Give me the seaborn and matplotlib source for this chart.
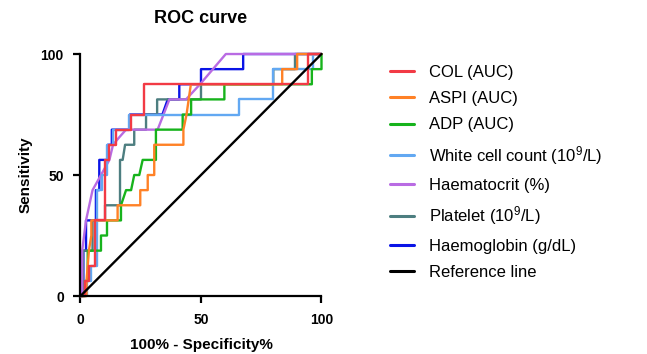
import numpy as np
import pandas as pd
import matplotlib
matplotlib.use("Agg")
import matplotlib.pyplot as plt
import seaborn as sns

# ROC curves (x = 100% - specificity, y = sensitivity)
col_x = [0, 1.9, 1.9, 3.7, 3.7, 6.2, 6.2, 10.3, 10.3, 12, 12, 14.7, 14.7, 21, 21, 26.5, 26.5, 94.4, 94.4, 100]
col_y = [0, 0, 6.25, 6.25, 12.5, 12.5, 31.25, 31.25, 56.25, 56.25, 62.5, 62.5, 68.75, 68.75, 75, 75, 87.5, 87.5, 100, 100]

aspi_x = [0, 2.5, 2.5, 3.5, 4.5, 4.5, 15.4, 15.4, 24.8, 24.8, 27.9, 27.9, 30.6, 30.6, 42.7, 42.7, 44, 45.8, 83.7, 83.7, 89.9, 89.9, 100]
aspi_y = [0, 0, 6.25, 18.75, 25, 31.25, 31.25, 37.5, 37.5, 43.75, 43.75, 50, 50, 62.5, 62.5, 68.75, 75, 87.5, 87.5, 93.75, 93.75, 100, 100]

adp_x = [0, 2, 2, 3, 3, 8.5, 8.5, 11, 11, 16.8, 16.8, 18.9, 21, 22.3, 24.4, 25.8, 31.3, 31.3, 42.4, 42.4, 45.9, 45.9, 59.7, 59.7, 96, 96, 100, 100]
adp_y = [0, 0, 6.25, 6.25, 18.75, 18.75, 25, 25, 31.25, 31.25, 37.5, 43.75, 43.75, 50, 50, 56.25, 56.25, 68.75, 68.75, 75, 75, 81.25, 81.25, 87.5, 87.5, 93.75, 93.75, 100]

wcc_x = [0, 2.5, 2.5, 4.5, 4.5, 6.8, 6.8, 8.9, 8.9, 11, 11, 13.3, 13.3, 20.3, 20.3, 65.9, 65.9, 79.9, 79.9, 96.5, 96.5, 100]
wcc_y = [0, 0, 6.25, 6.25, 12.5, 12.5, 43.75, 43.75, 50, 50, 62.5, 62.5, 68.75, 68.75, 75, 75, 81.25, 81.25, 93.75, 93.75, 100, 100]

hct_x = [0, 0.7, 0.7, 2.3, 5, 8.5, 12, 13.5, 16.1, 18.9, 32, 36.9, 43.8, 49.6, 60.3, 100]
hct_y = [0, 0, 18.75, 31.25, 43.75, 50, 56.25, 62.5, 65.6, 68.75, 68.75, 81.25, 81.25, 87.5, 100, 100]

plt_x = [0, 1, 1, 5, 5, 10.2, 10.2, 16.4, 16.4, 17.5, 18.5, 22.3, 22.3, 27.2, 27.2, 31.8, 31.8, 50, 50, 80, 80, 89, 89, 100]
plt_y = [0, 0, 18.75, 18.75, 31.25, 31.25, 37.5, 37.5, 56.25, 56.25, 62.5, 62.5, 68.75, 68.75, 75, 75, 81.25, 81.25, 87.5, 87.5, 93.75, 93.75, 100, 100]

hb_x = [0, 1.2, 1.2, 2.3, 2.3, 6.4, 6.4, 7.8, 7.8, 11.3, 11.3, 13, 13, 20.5, 20.5, 34, 36.2, 41, 41, 50, 50, 67.5, 67.5, 100]
hb_y = [0, 0, 18.75, 18.75, 31.25, 31.25, 43.75, 43.75, 56.25, 56.25, 62.5, 62.5, 68.75, 68.75, 75, 75, 81.25, 81.25, 87.5, 87.5, 93.75, 93.75, 100, 100]

ref_x = [0, 100]
ref_y = [0, 100]

labels = ["COL (AUC)", "ASPI (AUC)", "ADP (AUC)", "White cell count (10$^9$/L)",
          "Haematocrit (%)", "Platelet (10$^9$/L)", "Haemoglobin (g/dL)", "Reference line"]
colors = ["#F23A45", "#FF8126", "#17B31C", "#62A8F2", "#B96BE3", "#4D7E80", "#0A14E6", "#000000"]

series = [(col_x, col_y), (aspi_x, aspi_y), (adp_x, adp_y), (wcc_x, wcc_y),
          (hct_x, hct_y), (plt_x, plt_y), (hb_x, hb_y), (ref_x, ref_y)]

frames = []
for lab, (xs, ys) in zip(labels, series):
    frames.append(pd.DataFrame({"x": xs, "y": ys, "curve": lab}))
df = pd.concat(frames, ignore_index=True)

sns.set_style("ticks")
plt.rcParams["font.family"] = ["Liberation Sans", "DejaVu Sans"]
plt.rcParams["mathtext.default"] = "regular"
for k in ["text.color", "axes.labelcolor", "xtick.color", "ytick.color", "axes.edgecolor"]:
    plt.rcParams[k] = "black"

fig = plt.figure(figsize=(6.47, 3.54), dpi=100)
ax = fig.add_axes([0.1244, 0.1638, 0.3725, 0.6836])

# draw COL on top of the other curves, reference line last
draw_order = labels[:-1][::-1] + [labels[-1]]
pal = dict(zip(labels, colors))
sns.lineplot(data=df, x="x", y="y", hue="curve", hue_order=draw_order, palette=pal,
             sort=False, estimator=None, linewidth=1.7, ax=ax)
for ln in ax.lines:
    ln.set_clip_on(False)

ax.set_xlim(0, 100)
ax.set_ylim(0, 100)
ax.set_xticks([0, 50, 100])
ax.set_yticks([0, 50, 100])
sns.despine(ax=ax)
for s in ["left", "bottom"]:
    ax.spines[s].set_linewidth(1.6)
ax.tick_params(width=1.6, length=5, pad=7, labelsize=10)
for t in ax.get_xticklabels() + ax.get_yticklabels():
    t.set_fontweight("bold")

ax.set_xlabel("100% - Specificity%", fontsize=11, fontweight="bold", labelpad=8)
ax.set_ylabel("Sensitivity", fontsize=11, fontweight="bold", labelpad=6)
ax.set_title("ROC curve", fontsize=13, fontweight="bold", pad=22)

handles, labs = ax.get_legend_handles_labels()
ax.get_legend().remove()
hmap = dict(zip(labs, handles))
leg = fig.legend([hmap[l] for l in labels], labels, loc="upper left",
                 bbox_to_anchor=(0.603, 0.817), frameon=False, fontsize=12,
                 labelspacing=0.68, handlelength=1.45, handletextpad=0.9,
                 borderpad=0, borderaxespad=0)
for ln in leg.get_lines():
    ln.set_linewidth(2.2)

fig.savefig("out.png", dpi=100)
